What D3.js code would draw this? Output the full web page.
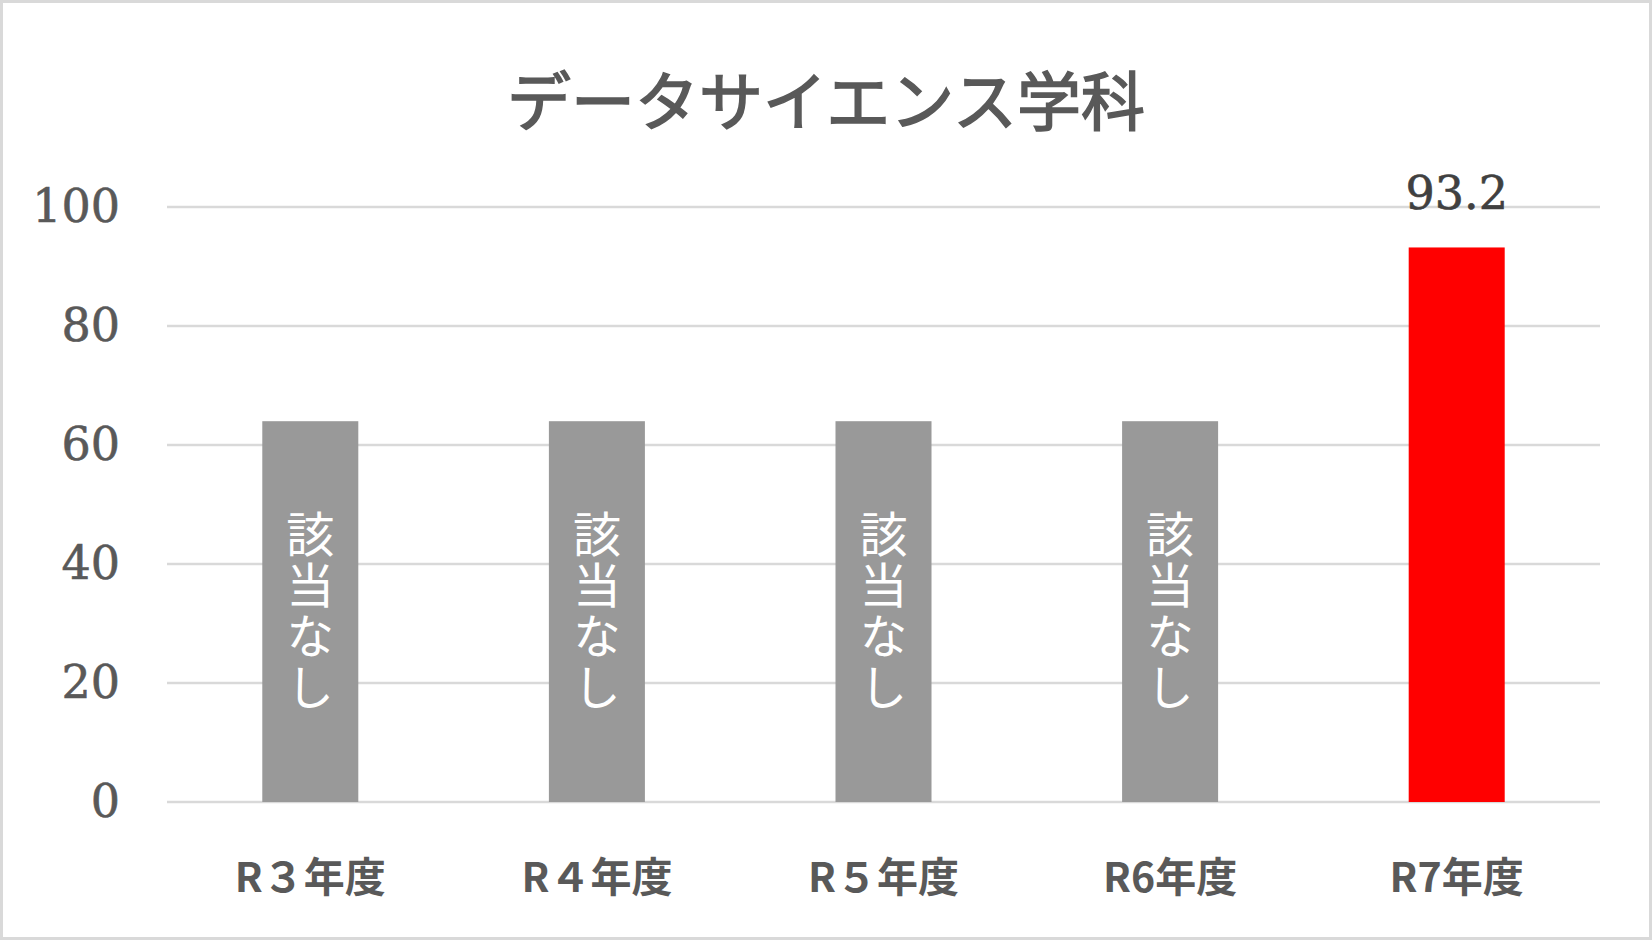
<!DOCTYPE html>
<html lang="ja">
<head>
<meta charset="UTF-8">
<title>データサイエンス学科</title>
<script src="https://d3js.org/d3.v7.min.js"></script>
<style>
  body { margin: 0; background: #fff; }
</style>
</head>
<body>
<div id="chart"></div>
<script>
  // data
  var categories = ["R３年度", "R４年度", "R５年度", "R6年度", "R7年度"];
  var values = [64, 64, 64, 64, 93.2];
  var barLabels = ["該当なし", "該当なし", "該当なし", "該当なし", "93.2"];
  var yTicks = [0, 20, 40, 60, 80, 100];

  var W = 1652, H = 940;
  var margin = { top: 207, right: 52, bottom: 138, left: 167 };
  var width = W - margin.left - margin.right,
      height = H - margin.top - margin.bottom;

  var svg = d3.select("#chart").append("svg")
    .attr("width", W)
    .attr("height", H);

  // outer border
  svg.append("rect")
    .attr("x", 1.5).attr("y", 1.5)
    .attr("width", W - 3).attr("height", H - 3)
    .attr("fill", "#fff")
    .attr("stroke", "#d9d9d9")
    .attr("stroke-width", 3);

  // title
  svg.append("text")
    .attr("x", W / 2)
    .attr("y", 97)
    .attr("text-anchor", "middle")
    .attr("dominant-baseline", "central")
    .style("font-family", "'Noto Sans CJK JP', sans-serif")
    .style("font-size", "64px")
    .style("fill", "#595959")
    .style("stroke", "#595959")
    .style("stroke-width", 1.6)
    .text("データサイエンス学科");

  var g = svg.append("g")
    .attr("transform", "translate(" + margin.left + "," + margin.top + ")");

  var x = d3.scaleBand()
    .domain(categories)
    .range([0, width])
    .paddingInner(0.665)
    .paddingOuter(0.3325);

  var y = d3.scaleLinear()
    .domain([0, 100])
    .range([height, 0]);

  // gridlines
  g.append("g")
    .selectAll("line")
    .data(yTicks)
    .enter().append("line")
    .attr("x1", 0).attr("x2", width)
    .attr("y1", function(d) { return y(d); })
    .attr("y2", function(d) { return y(d); })
    .attr("stroke", "#d9d9d9")
    .attr("stroke-width", 2.5);

  // y axis labels
  var yAxis = g.append("g")
    .call(d3.axisLeft(y).tickValues(yTicks).tickSize(0).tickPadding(47));
  yAxis.select(".domain").remove();
  yAxis.selectAll("text")
    .style("font-family", "'DejaVu Serif', serif")
    .style("font-size", "46px")
    .style("fill", "#595959")
    .style("stroke", "#595959")
    .style("stroke-width", 0.6);

  // x axis labels
  var xAxis = g.append("g")
    .attr("transform", "translate(0," + height + ")")
    .call(d3.axisBottom(x).tickSize(0).tickPadding(0));
  xAxis.select(".domain").remove();
  xAxis.selectAll("text")
    .attr("y", 76)
    .attr("dy", "0.35em")
    .style("font-family", "'Noto Sans CJK JP', sans-serif")
    .style("font-weight", "bold")
    .style("font-size", "41px")
    .style("fill", "#595959");

  // bars
  g.append("g")
    .selectAll("rect")
    .data(values)
    .enter().append("rect")
    .attr("x", function(d, i) { return x(categories[i]); })
    .attr("y", function(d) { return y(d); })
    .attr("width", x.bandwidth())
    .attr("height", function(d) { return height - y(d); })
    .attr("fill", function(d, i) { return i === values.length - 1 ? "#ff0000" : "#999999"; });

  // labels: vertical white text inside gray bars, value above red bar
  values.forEach(function(v, i) {
    var cx = x(categories[i]) + x.bandwidth() / 2;
    var label = barLabels[i];
    if (i < values.length - 1) {
      g.append("text")
        .attr("x", cx)
        .attr("y", (y(v) + height) / 2)
        .attr("text-anchor", "middle")
        .style("writing-mode", "vertical-rl")
        .style("letter-spacing", "3px")
        .style("font-family", "'Noto Sans CJK JP', sans-serif")
        .style("font-size", "48px")
        .style("fill", "#ffffff")
        .text(label);
    } else {
      g.append("text")
        .attr("x", cx)
        .attr("y", y(v) - 54)
        .attr("text-anchor", "middle")
        .attr("dominant-baseline", "central")
        .style("font-family", "'DejaVu Serif', serif")
        .style("font-size", "46px")
        .style("fill", "#404040")
        .style("stroke", "#404040")
        .style("stroke-width", 0.6)
        .text(label);
    }
  });
</script>
</body>
</html>
